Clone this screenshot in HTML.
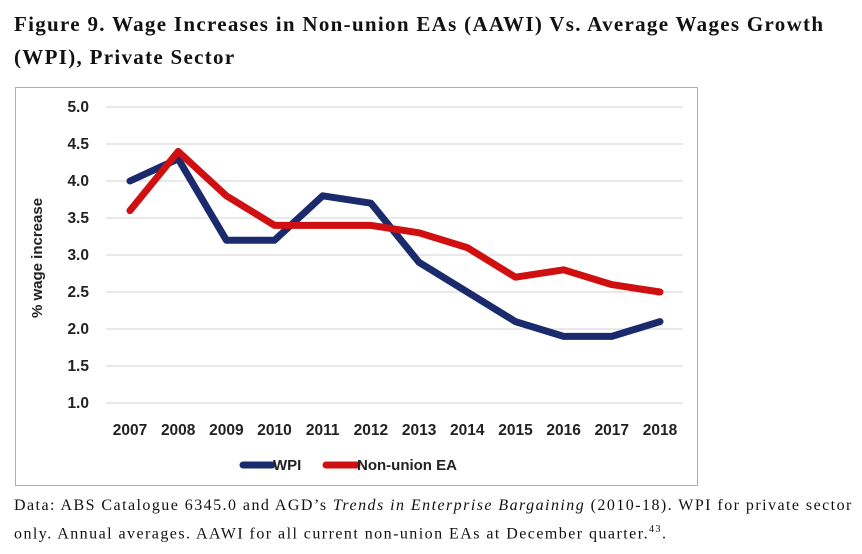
<!DOCTYPE html>
<html><head><meta charset="utf-8"><style>
body{margin:0;width:862px;height:554px;background:#fff;overflow:hidden;position:relative;font-family:"Liberation Serif",serif}
.title{position:absolute;left:14px;top:8px;font-size:21px;font-weight:bold;line-height:33px;color:#111;width:850px;letter-spacing:1.3px;white-space:nowrap}
.cap{position:absolute;left:14px;top:494px;font-size:16px;line-height:24px;color:#111;width:848px;letter-spacing:1.45px;white-space:nowrap}
svg{position:absolute;left:0;top:0}
svg text{font-family:"Liberation Sans",sans-serif;font-weight:bold;fill:#222}
</style></head><body>
<div class="title">Figure 9. Wage Increases in Non-union EAs (AAWI) Vs. Average Wages Growth<br>(WPI), Private Sector</div>
<svg width="862" height="554">
<rect x="15.5" y="87.5" width="682" height="398" fill="#fff" stroke="#9fb0c8"/>
<g id="grid"></g><g id="lines"></g>
<text x="0" y="0" transform="translate(42,258) rotate(-90)" text-anchor="middle" font-size="15">% wage increase</text>
<g>
<line x1="243" y1="465" x2="272" y2="465" stroke="#1a2a6c" stroke-width="7" stroke-linecap="round"/>
<text x="273" y="470" font-size="15">WPI</text>
<line x1="326" y1="465" x2="357" y2="465" stroke="#d01010" stroke-width="7" stroke-linecap="round"/>
<text x="357" y="470" font-size="15">Non-union EA</text>
</g>
</svg>
<div class="cap">Data: ABS Catalogue 6345.0 and AGD’s <i>Trends in Enterprise Bargaining</i> (2010-18). WPI for private sector<br>only. Annual averages. AAWI for all current non-union EAs at December quarter.<sup style="font-size:10px">43</sup>.</div>
<script>
const years=["2007","2008","2009","2010","2011","2012","2013","2014","2015","2016","2017","2018"];
const wpi=[4.0,4.3,3.2,3.2,3.8,3.7,2.9,2.5,2.1,1.9,1.9,2.1];
const nonUnion=[3.6,4.4,3.8,3.4,3.4,3.4,3.3,3.1,2.7,2.8,2.6,2.5];
const yTicks=[1.0,1.5,2.0,2.5,3.0,3.5,4.0,4.5,5.0];
const NS="http://www.w3.org/2000/svg";
const x=i=>130+i*(530/11);
const y=v=>403-(v-1)*74;
const grid=document.getElementById('grid'),lines=document.getElementById('lines');
function mk(t,a,p){const e=document.createElementNS(NS,t);for(const k in a)e.setAttribute(k,a[k]);p.appendChild(e);return e;}
yTicks.forEach(v=>{
 const l=mk('line',{x1:106,x2:683,y1:y(v),y2:y(v),stroke:'#e2e2e2','stroke-width':1.5},grid);
 
 
 const t=mk('text',{x:89,y:y(v)+5,'text-anchor':'end','font-size':15.5},grid);t.textContent=v.toFixed(1);
 
 
});
years.forEach((yr,i)=>{
 const t=mk('text',{x:x(i),y:435,'text-anchor':'middle','font-size':15.5},grid);t.textContent=yr;
 
 
});
function series(vals,col,name){
 const p=mk('polyline',{points:vals.map((v,i)=>x(i)+','+y(v)).join(' '),fill:'none',stroke:col,'stroke-width':7,'stroke-linejoin':'round','stroke-linecap':'round'},lines);
 
 
}
series(wpi,'#1a2a6c','wpi-line');
series(nonUnion,'#d01010','nonunion-line');
</script>
</body></html>
